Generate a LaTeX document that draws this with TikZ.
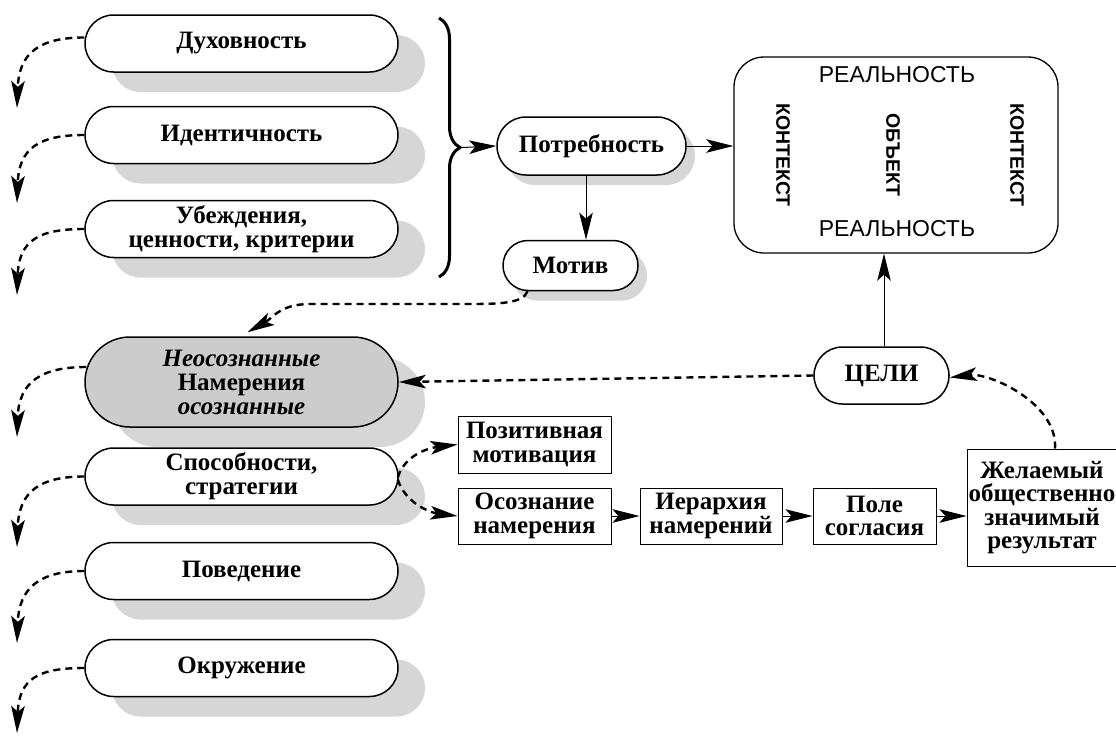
\documentclass[tikz,border=0pt]{standalone}
\usepackage{fontspec}
\setmainfont{Liberation Serif}
\newfontfamily\sansf{Liberation Sans}
\usetikzlibrary{arrows.meta,calc,decorations.pathreplacing,shadows}
\definecolor{shadowc}{gray}{0.84}
\definecolor{neosfill}{gray}{0.80}
\begin{document}
\begin{tikzpicture}[x=1pt,y=-1pt,
  bigtip/.tip={Stealth[length=27bp,width=13.5bp,inset=6bp]},
  pill/.style={draw=black, line width=1.5pt, fill=white, minimum width=313pt,
    minimum height=57pt, rounded corners=28.5pt, align=center, inner sep=0pt,
    font=\bfseries\fontsize{25}{24}\selectfont},
  bigshadow/.style={drop shadow={shadow xshift=27pt, shadow yshift=-20pt, opacity=1, fill=shadowc}},
  smallshadow/.style={drop shadow={shadow xshift=9pt, shadow yshift=-10pt, opacity=1, fill=shadowc}},
  sbox/.style={draw=black, line width=1pt, fill=white, align=center, inner sep=0pt,
    font=\bfseries\fontsize{25}{23.5}\selectfont},
  conn/.style={line width=1pt, -bigtip},
  dconn/.style={line width=2.4pt, dash pattern=on 7pt off 5pt, -bigtip},
  rtext/.style={font=\sansf\fontsize{23}{23}\selectfont, inner sep=0pt},
  vtext/.style={font=\sansf\bfseries\fontsize{19.5}{19.5}\selectfont, rotate=-90, inner sep=0pt}
]
\useasboundingbox (0,0) rectangle (1116,736);

% left column
\node[pill, bigshadow] (duh) at (241.5,43.5) {Духовность};
\node[pill, bigshadow] (ide) at (241.5,135) {Идентичность};
\node[pill, bigshadow] (ube) at (241.5,229) {Убеждения,\\ценности, критерии};
\node[pill, bigshadow, fill=neosfill, minimum height=90pt, rounded corners=45pt] (neos) at (241.5,382)
  {\itshape Неосознанные\\Намерения\\\itshape осознанные};
\node[pill, bigshadow] (spo) at (241.5,476.5) {Способности,\\стратегии};
\node[pill, bigshadow] (pov) at (241.5,571) {Поведение};
\node[pill, bigshadow] (okr) at (241.5,668) {Окружение};

% dashed arrows on the left
\coordinate (t1) at (17,108);
\coordinate (t2) at (17,203);
\coordinate (t3) at (17,295);
\coordinate (t4) at (17,437);
\coordinate (t5) at (17,547);
\coordinate (t6) at (17,643);
\coordinate (t7) at (17,733);
\draw[dconn] ($(duh.west)+(0,-6)$) .. controls +(-45,0) and +(2,-55) .. (t1);
\draw[dconn] (ide.west) .. controls +(-45,0) and +(2,-55) .. (t2);
\draw[dconn] (ube.west) .. controls +(-45,0) and +(2,-55) .. (t3);
\draw[dconn] ($(neos.west)+(2,-15)$) .. controls +(-45,0) and +(2,-55) .. (t4);
\draw[dconn] (spo.west) .. controls +(-45,0) and +(2,-55) .. (t5);
\draw[dconn] (pov.west) .. controls +(-45,0) and +(2,-55) .. (t6);
\draw[dconn] (okr.west) .. controls +(-45,0) and +(2,-55) .. (t7);

% brace
\coordinate (brtop) at (439,18);
\coordinate (brbot) at (439,277);
\coordinate (brtip) at (462,147.5);
\draw[line width=3pt, decorate, decoration={brace, amplitude=21pt, aspect=0.5}] (brtop) -- (brbot);

% need / motive
\node[pill, smallshadow, minimum width=189pt, minimum height=58pt, rounded corners=29pt] (potr) at (591.5,146) {Потребность};
\node[pill, smallshadow, minimum width=135pt, minimum height=50pt, rounded corners=25pt] (motiv) at (570.5,265.5) {Мотив};
\draw[conn] (brtip) -- (potr.west);
\draw[conn] (potr.south -| 586,0) -- (motiv.north -| 586,0);

% reality box
\node[draw=black, line width=1.3pt, rounded corners=30pt, minimum width=324pt, minimum height=196pt, inner sep=0pt] (real) at (896,155) {};
\node[rtext] (r1) at (897,75) {РЕАЛЬНОСТЬ};
\node[rtext] (r2) at (897,229) {РЕАЛЬНОСТЬ};
\node[vtext] (k1) at (783,155) {КОНТЕКСТ};
\node[vtext] (ob) at (893,155) {ОБЪЕКТ};
\node[vtext] (k2) at (1017,155) {КОНТЕКСТ};
\draw[conn] (potr.east) -- (potr.east -| real.west);

% goals
\node[pill, minimum width=135pt, minimum height=57pt] (celi) at (881.5,375.5) {ЦЕЛИ};
\draw[conn] (celi.north -| 884,0) -- (real.south -| 884,0);
\draw[dconn] (celi.west) -- (neos.east);

% motive -> intentions
\draw[dconn] ($(motiv.south)+(-43,0)$) .. controls +(-4,12) and +(30,0) .. (470,304)
  -- (310,304) .. controls +(-30,0) and +(25,-14) .. ($(neos.north)+(6,-4)$);

% right chain
\node[sbox, minimum width=153pt, minimum height=57pt] (poz) at (534.5,444.5) {Позитивная\\мотивация};
\node[sbox, minimum width=153pt, minimum height=56pt] (osoz) at (534.5,516) {Осознание\\намерения};
\node[sbox, minimum width=142pt, minimum height=56pt] (ier) at (711,516) {Иерархия\\намерений};
\node[sbox, minimum width=123pt, minimum height=56pt] (pole) at (874.5,516) {Поле\\согласия};
\node[sbox, minimum width=150pt, minimum height=117pt, text width=150pt] (zhel) at (1042,507.5) {Желаемый\\общественно\\значимый\\результат};

\draw[conn] (osoz) -- (ier);
\draw[conn] (ier) -- (pole);
\draw[conn] (pole.east) -- (pole.east -| zhel.west);

\draw[dconn] ($(spo.east)+(-1,1)$) .. controls +(8,-25) and +(-25,3) .. (poz.west);
\draw[dconn] ($(spo.east)+(-1,3)$) .. controls +(8,25) and +(-25,-3) .. (osoz.west);

\draw[dconn] (zhel.north -| 1055,0) .. controls +(3,-45) and +(40,-5) .. ($(celi.east)+(0,2)$);
\end{tikzpicture}
\end{document}
